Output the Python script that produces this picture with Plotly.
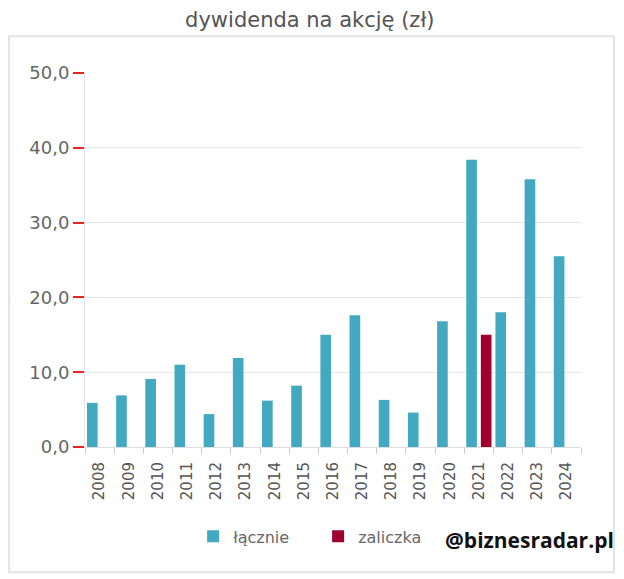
import plotly.graph_objects as go

# dywidenda na akcje (zl)
lata = [str(r) for r in range(2008, 2025)]
lacznie = [5.9, 6.9, 9.1, 11.0, 4.4, 11.9, 6.2, 8.2, 15.0, 17.6, 6.3, 4.6, 16.8, 38.4, 18.0, 35.8, 25.5]
zaliczka = [None] * 13 + [15.0] + [None] * 3
y_ticks = [0, 10, 20, 30, 40, 50]

teal = "#43a9c0"
crimson = "#a0002d"
font_family = "DejaVu Sans"

fig = go.Figure()
fig.add_trace(go.Bar(x=lata, y=lacznie, name="łącznie", marker_color=teal, marker_line_width=0))
fig.add_trace(go.Bar(x=lata, y=zaliczka, name="zaliczka", marker_color=crimson, marker_line_width=0))

# ramka wokol wykresu
fig.add_shape(type="rect", xref="paper", yref="paper",
              x0=-0.153, x1=1.0665, y0=-0.335, y1=1.098,
              line=dict(color="#e3e3e3", width=2), layer="below")

fig.add_annotation(text="<b>@biznesradar.pl</b>", xref="paper", yref="paper",
                   x=0.897, y=-0.2495, xanchor="center", yanchor="middle", showarrow=False,
                   font=dict(family="Open Sans", size=21, color="#111111"))

# strona ma 8px marginesu body, wiec figura jest o 8px mniejsza
fig.update_layout(
    width=616, height=571,
    margin=dict(l=77, r=43, t=65, b=132),
    paper_bgcolor="white", plot_bgcolor="white",
    separators=",.",
    font=dict(family=font_family, color="#666666"),
    title=dict(text="dywidenda na akcję (zł)", x=0.49, xref="container",
               y=0.979, yref="container", yanchor="middle",
               font=dict(family=font_family, size=21, color="#555555")),
    barmode="group", bargap=0, bargroupgap=0.27,
    showlegend=True,
    legend=dict(orientation="h", x=0.218, xanchor="left", y=-0.239, yanchor="middle",
                font=dict(size=16, color="#666666"),
                entrywidth=80, entrywidthmode="pixels"),
    hovermode=False,
)
fig.update_xaxes(type="category", tickangle=-90, tickson="boundaries",
                 ticks="outside", ticklen=6, tickcolor="#cccccc",
                 ticklabelstandoff=8,
                 showline=True, linecolor="#dddddd", showgrid=False,
                 tickfont=dict(size=15, color="#555555"))
fig.update_yaxes(range=[0, 50], tickvals=y_ticks, tickformat=".1f",
                 ticks="outside", ticklen=11, tickwidth=2, tickcolor="#ee2222",
                 showline=True, linecolor="#e6e6e6", gridcolor="#e6e6e6",
                 zeroline=False, tickfont=dict(size=18, color="#666666"))

fig.write_html("out.html")
